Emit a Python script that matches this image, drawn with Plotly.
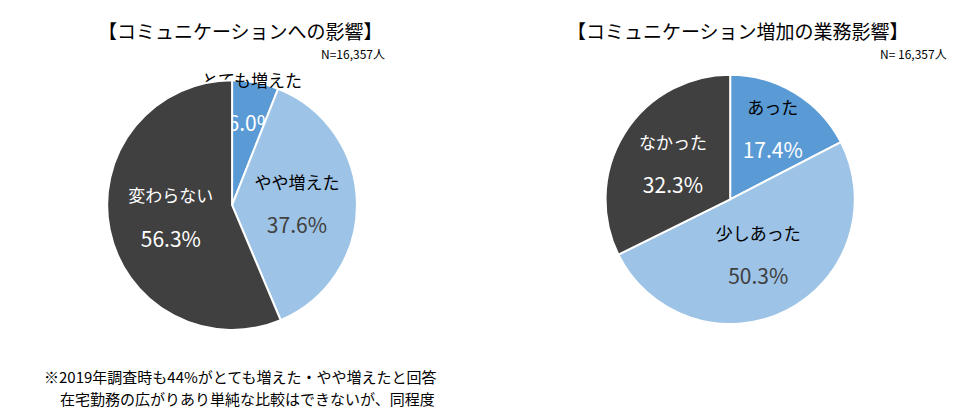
import plotly.graph_objects as go

left_labels = ["とても増えた", "やや増えた", "変わらない"]
left_values = [6.0, 37.6, 56.3]
right_labels = ["あった", "少しあった", "なかった"]
right_values = [17.4, 50.3, 32.3]

colors = ["#5b9bd5", "#9dc3e6", "#404040"]
lab_colors = ["#000000", "#000000", "#ffffff"]
pct_colors_l = ["#ffffff", "#404040", "#ffffff"]
pct_colors_r = ["#ffffff", "#404040", "#ffffff"]

def tt(labels, pc):
    return [f"<span style='color:{lc};font-size:17px'>{l}</span><br><br><span style='color:{c};font-size:21px'>%{{value:.1f}}%</span>"
            for l, lc, c in zip(labels, lab_colors, pc)]

fig = go.Figure()
fig.add_trace(go.Pie(labels=left_labels, values=left_values, sort=False, direction="clockwise",
                     rotation=0, marker=dict(colors=colors, line=dict(color="white", width=2)),
                     texttemplate=tt(left_labels, pct_colors_l), textposition="inside",
                     insidetextorientation="horizontal",
                     domain=dict(x=[0.102, 0.360], y=[0.228, 0.827]), showlegend=False,
                     textfont=dict(family="Noto Sans CJK JP", size=17)))
fig.add_trace(go.Pie(labels=right_labels, values=right_values, sort=False, direction="clockwise",
                     rotation=0, marker=dict(colors=colors, line=dict(color="white", width=2)),
                     texttemplate=tt(right_labels, pct_colors_r), textposition="inside",
                     insidetextorientation="horizontal",
                     domain=dict(x=[0.616, 0.873], y=[0.238, 0.844]), showlegend=False,
                     textfont=dict(family="Noto Sans CJK JP", size=17)))

ann = [
    dict(x=232, y=22, text="【コミュニケーションへの影響】", size=19),
    dict(x=345, y=46, text="N=16,357人", size=12),
    dict(x=730, y=22, text="【コミュニケーション増加の業務影響】", size=19),
    dict(x=905, y=46, text="N= 16,357人", size=12),
    dict(x=232, y=368, text="※2019年調査時も44%がとても増えた・やや増えたと回答", size=15),
    dict(x=232, y=390, text="　在宅勤務の広がりあり単純な比較はできないが、同程度", size=15),
]
for a in ann:
    fig.add_annotation(x=a["x"] / 970, y=1 - a["y"] / 417, xref="paper", yref="paper",
                       text=a["text"], showarrow=False, font=dict(size=a["size"], color="#000",
                       family="Noto Sans CJK JP"), xanchor="center", yanchor="middle")

fig.update_layout(width=970, height=417, margin=dict(l=0, r=0, t=0, b=0),
                  uniformtext=dict(minsize=17, mode="show"),
                  paper_bgcolor="white", font=dict(family="Noto Sans CJK JP"))
fig.write_html("out.html")
